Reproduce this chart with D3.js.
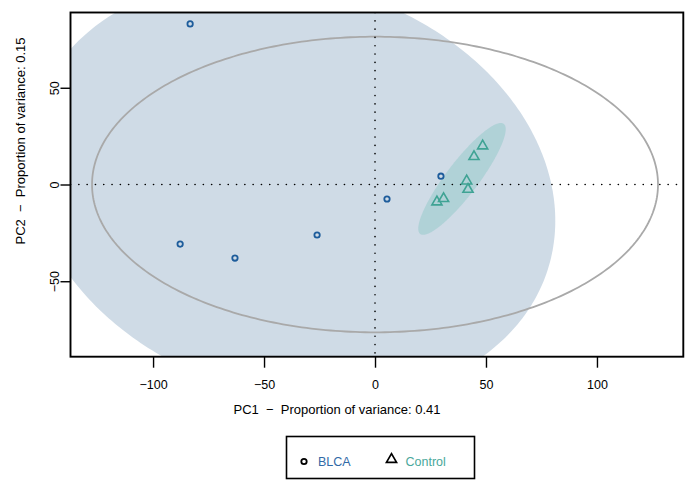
<!DOCTYPE html>
<html>
<head>
<meta charset="utf-8">
<script src="https://cdn.jsdelivr.net/npm/d3@7"></script>
<style>
  html, body { margin: 0; padding: 0; background: #fff; }
  svg { display: block; font-family: "Liberation Sans", Arial, Helvetica, sans-serif; }
  text { white-space: pre; }
</style>
</head>
<body>
<svg id="chart" width="685" height="484"></svg>
<script>
// PCA scores (PC1, PC2) per sample group
const groups = ["BLCA", "Control"];
const blcaPC1 = [-83.3, -87.8, -63.1, -26.1, 5.4, 29.7];
const blcaPC2 = [83.0, -30.8, -38.0, -26.1, -7.5, 4.3];
const controlPC1 = [48.5, 44.6, 41.3, 41.9, 30.9, 27.9];
const controlPC2 = [19.9, 14.4, 1.8, -2.5, -7.3, -9.0];

// Hotelling T2 ellipse semi-axes (PC1, PC2)
const hotellingRadii = [127.5, 76.4];

// axis extents and ticks
const xDomain = [-137.2, 138.9];
const yDomain = [-89.0, 88.9];
const xTicks = [-100, -50, 0, 50, 100];
const yTicks = [-50, 0, 50];
const xTitle = "PC1  \u2212  Proportion of variance: 0.41";
const yTitle = "PC2  \u2212  Proportion of variance: 0.15";

const pointColor = { BLCA: "#1d5c9b", Control: "#3fa394" };
const textColor = { BLCA: "#3169a6", Control: "#4aa89b" };
const fillColor = { BLCA: "#cfdbe6", Control: "rgba(70,178,165,0.22)" };

const svg = d3.select("#chart");
const plot = { left: 70.5, right: 683.3, top: 12.5, bottom: 356.7 };

const x = d3.scaleLinear().domain(xDomain).range([plot.left, plot.right]);
const y = d3.scaleLinear().domain(yDomain).range([plot.bottom, plot.top]);

svg.append("defs").append("clipPath").attr("id", "plotClip")
  .append("rect")
  .attr("x", plot.left).attr("y", plot.top)
  .attr("width", plot.right - plot.left).attr("height", plot.bottom - plot.top);

const g = svg.append("g").attr("clip-path", "url(#plotClip)");

// 95% normal-theory data ellipse from a group's scores
function dataEllipse(xs, ys, level) {
  const n = xs.length;
  const mx = d3.mean(xs), my = d3.mean(ys);
  let sxx = 0, syy = 0, sxy = 0;
  for (let i = 0; i < n; i++) {
    sxx += (xs[i] - mx) ** 2;
    syy += (ys[i] - my) ** 2;
    sxy += (xs[i] - mx) * (ys[i] - my);
  }
  sxx /= n - 1; syy /= n - 1; sxy /= n - 1;
  const r = Math.sqrt(-2 * Math.log(1 - level)); // chi-square, 2 df
  // Cholesky factor of the covariance
  const l11 = Math.sqrt(sxx), l21 = sxy / l11, l22 = Math.sqrt(syy - l21 * l21);
  return d3.range(0, 361).map(k => {
    const t = k * Math.PI / 180;
    const u = Math.cos(t), v = Math.sin(t);
    return [mx + r * l11 * u, my + r * (l21 * u + l22 * v)];
  });
}

const line = d3.line().x(d => x(d[0])).y(d => y(d[1]));

g.append("path")
  .attr("d", line(dataEllipse(blcaPC1, blcaPC2, 0.95)) + "Z")
  .attr("fill", fillColor.BLCA).attr("stroke", "none");
g.append("path")
  .attr("d", line(dataEllipse(controlPC1, controlPC2, 0.95)) + "Z")
  .attr("fill", fillColor.Control).attr("stroke", "none");

// Hotelling ellipse
const hot = d3.range(0, 361).map(k => {
  const t = k * Math.PI / 180;
  return [hotellingRadii[0] * Math.cos(t), hotellingRadii[1] * Math.sin(t)];
});
g.append("path").attr("d", line(hot) + "Z")
  .attr("fill", "none").attr("stroke", "#a9a9a9").attr("stroke-width", 1.8);

// zero reference lines
g.append("line")
  .attr("x1", x(0)).attr("x2", x(0)).attr("y1", plot.top).attr("y2", plot.bottom)
  .attr("stroke", "#000").attr("stroke-width", 1.6)
  .attr("stroke-dasharray", "0.1,8.2").attr("stroke-linecap", "round");
g.append("line")
  .attr("x1", plot.left).attr("x2", plot.right).attr("y1", y(0)).attr("y2", y(0))
  .attr("stroke", "#000").attr("stroke-width", 1.6)
  .attr("stroke-dasharray", "0.1,8.2").attr("stroke-linecap", "round");

// points
g.selectAll("circle.blca").data(blcaPC1.map((v, i) => [v, blcaPC2[i]]))
  .join("circle").attr("class", "blca")
  .attr("cx", d => x(d[0])).attr("cy", d => y(d[1])).attr("r", 2.7)
  .attr("fill", "none").attr("stroke", pointColor.BLCA).attr("stroke-width", 1.8);

const tri = d3.symbol().type(d3.symbolTriangle).size(44);
g.selectAll("path.control").data(controlPC1.map((v, i) => [v, controlPC2[i]]))
  .join("path").attr("class", "control")
  .attr("d", tri)
  .attr("transform", d => `translate(${x(d[0])},${y(d[1])})`)
  .attr("fill", "none").attr("stroke", pointColor.Control).attr("stroke-width", 1.6)
  .attr("stroke-linejoin", "miter");

// frame
svg.append("rect")
  .attr("x", plot.left).attr("y", plot.top)
  .attr("width", plot.right - plot.left).attr("height", plot.bottom - plot.top)
  .attr("fill", "none").attr("stroke", "#000").attr("stroke-width", 1.9);

// axes
const fmt = d => String(d).replace("-", "\u2212");
const xAxis = svg.append("g").attr("transform", `translate(0,${plot.bottom})`)
  .call(d3.axisBottom(x).tickValues(xTicks).tickSize(11).tickPadding(12).tickFormat(fmt));
const yAxis = svg.append("g").attr("transform", `translate(${plot.left},0)`)
  .call(d3.axisLeft(y).tickValues(yTicks).tickSize(10).tickFormat(fmt));
[xAxis, yAxis].forEach(a => {
  a.select(".domain").remove();
  a.selectAll(".tick line").attr("stroke", "#000").attr("stroke-width", 1.4);
  a.selectAll(".tick text").attr("font-size", 12.5).attr("fill", "#000")
    .attr("font-family", "Liberation Sans, Arial, sans-serif");
});
yAxis.selectAll(".tick text")
  .attr("text-anchor", "middle").attr("dy", null).attr("x", null).attr("y", 0)
  .attr("transform", "translate(-11.5,0) rotate(-90)");

svg.append("text").attr("x", 337).attr("y", 414)
  .attr("text-anchor", "middle").attr("font-size", 13).text(xTitle);
svg.append("text")
  .attr("transform", `translate(25,141) rotate(-90)`)
  .attr("text-anchor", "middle").attr("font-size", 13).text(yTitle);

// legend
const legend = svg.append("g");
legend.append("rect").attr("x", 286.5).attr("y", 436.5).attr("width", 188).attr("height", 42)
  .attr("fill", "#fff").attr("stroke", "#000").attr("stroke-width", 1.6);
const items = legend.selectAll("g.item").data(groups).join("g").attr("class", "item");
items.each(function(name, i) {
  const it = d3.select(this);
  const sx = i === 0 ? 304 : 391.5;
  if (name === "BLCA") {
    it.append("circle").attr("cx", sx).attr("cy", 461.5).attr("r", 2.7)
      .attr("fill", "none").attr("stroke", "#000").attr("stroke-width", 1.8);
  } else {
    it.append("path").attr("d", tri).attr("transform", `translate(${sx},459.5)`)
      .attr("fill", "none").attr("stroke", "#000").attr("stroke-width", 1.7);
  }
  it.append("text").attr("x", sx + 14).attr("y", 466)
    .attr("font-size", 12.5).attr("fill", textColor[name]).text(name);
});
</script>
</body>
</html>
